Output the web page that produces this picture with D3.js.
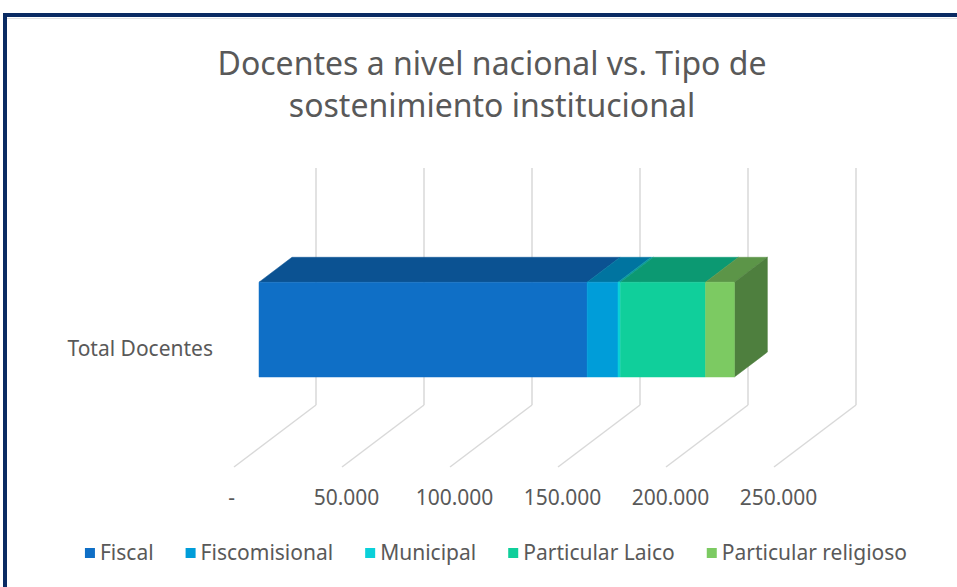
<!DOCTYPE html>
<html>
<head>
  <meta charset="utf-8">
  <title>Docentes</title>
  <script src="https://cdn.jsdelivr.net/npm/d3@7"></script>
  <style>
    body { margin: 0; background: #ffffff; }
    text { font-family: "Noto Sans", sans-serif; fill: #595959; }
    .title { font-size: 32px; }
    .cat { font-size: 21px; }
    .x.axis text { font-size: 21px; fill: #595959; }
    .x.axis path, .x.axis line { display: none; }
    .legend text { font-size: 21px; }
    .grid { stroke: #d9d9d9; stroke-width: 1.5; fill: none; }
  </style>
</head>
<body>
<script>
  // chart data
  var categories = ["Total Docentes"];
  var seriesNames = ["Fiscal", "Fiscomisional", "Municipal", "Particular Laico", "Particular religioso"];
  var seriesValues = [151900, 14300, 1100, 39400, 13400];
  var seriesColors = ["#0F6FC6", "#009DD9", "#0BD0D9", "#10CF9B", "#7CCA62"];
  var tickValues = [0, 50000, 100000, 150000, 200000, 250000];
  var tickLabels = ["-", "50.000", "100.000", "150.000", "200.000", "250.000"];
  var titleLines = ["Docentes a nivel nacional vs. Tipo de", "sostenimiento institucional"];

  var W = 957, H = 587;

  var svg = d3.select("body").append("svg")
      .attr("width", W)
      .attr("height", H);

  // frame
  svg.append("rect")
      .attr("x", 0).attr("y", 0).attr("width", W).attr("height", H)
      .attr("fill", "#ffffff");
  svg.append("rect")
      .attr("x", 5).attr("y", 15).attr("width", 1000).attr("height", 700)
      .attr("fill", "none").attr("stroke", "#0a2b63").attr("stroke-width", 4);
  svg.append("line")
      .attr("x1", 7).attr("x2", W).attr("y1", 18.5).attr("y2", 18.5)
      .attr("stroke", "#e2e2e2").attr("stroke-width", 1);

  // title
  svg.append("text")
      .attr("class", "title")
      .attr("text-anchor", "middle")
      .selectAll("tspan")
      .data(titleLines)
      .enter().append("tspan")
      .attr("x", 492)
      .attr("y", function (d, i) { return 75 + i * 42; })
      .text(function (d) { return d; });

  // scales (front plane of the 3D box), depth vector for the oblique projection
  var x = d3.scaleLinear()
      .domain([0, 250000])
      .range([234, 774]);

  var y = d3.scaleBand()
      .domain(categories)
      .range([230, 467])
      .paddingInner(0.6)
      .paddingOuter(0.3);

  var depth = {dx: 82, dy: -62},
      barFront = 0.305,
      barBack = 0.707;

  function pt(v, yy, d) {
    return [x(v) + d * depth.dx, yy + d * depth.dy];
  }

  var line = d3.line();

  // back wall gridlines and floor lines
  var grid = svg.append("g");
  grid.selectAll("path.wall")
      .data(tickValues)
      .enter().append("path")
      .attr("class", "grid")
      .attr("d", function (v) { return line([pt(v, y.range()[0], 1), pt(v, y.range()[1], 1)]); });
  grid.selectAll("path.floor")
      .data(tickValues)
      .enter().append("path")
      .attr("class", "grid")
      .attr("d", function (v) { return line([pt(v, y.range()[1], 1), pt(v, y.range()[1], 0)]); });

  // stacked segments
  var stack = [];
  var acc = 0;
  seriesValues.forEach(function (v, i) {
    stack.push({name: seriesNames[i], x0: acc, x1: acc + v, color: seriesColors[i]});
    acc += v;
  });

  var cat = categories[0];
  var y0 = y(cat), y1 = y(cat) + y.bandwidth();

  var bars = svg.append("g");

  // top faces
  bars.selectAll("path.top")
      .data(stack)
      .enter().append("path")
      .attr("d", function (s) {
        return line([pt(s.x0, y0, barFront), pt(s.x1, y0, barFront), pt(s.x1, y0, barBack), pt(s.x0, y0, barBack)]) + "Z";
      })
      .attr("fill", function (s) { return d3.rgb(s.color).darker(0.85); })
      .attr("stroke", function (s) { return d3.rgb(s.color).darker(0.85); })
      .attr("stroke-width", 0.5);

  // right side of the last segment
  var lastSeg = stack[stack.length - 1];
  bars.append("path")
      .attr("d", line([pt(lastSeg.x1, y0, barFront), pt(lastSeg.x1, y0, barBack), pt(lastSeg.x1, y1, barBack), pt(lastSeg.x1, y1, barFront)]) + "Z")
      .attr("fill", d3.rgb(lastSeg.color).darker(1.3))
      .attr("stroke", d3.rgb(lastSeg.color).darker(1.3))
      .attr("stroke-width", 0.5);

  // front faces
  bars.selectAll("path.front")
      .data(stack)
      .enter().append("path")
      .attr("d", function (s) {
        return line([pt(s.x0, y0, barFront), pt(s.x1, y0, barFront), pt(s.x1, y1, barFront), pt(s.x0, y1, barFront)]) + "Z";
      })
      .attr("fill", function (s) { return s.color; })
      .attr("stroke", function (s) { return s.color; })
      .attr("stroke-width", 0.5);

  // category label
  svg.append("text")
      .attr("class", "cat")
      .attr("x", x(0) - 21)
      .attr("y", y0 + y.bandwidth() / 2 + barFront * depth.dy + 19)
      .attr("dy", "0.35em")
      .attr("text-anchor", "end")
      .text(cat);

  // value axis
  var xAxis = d3.axisBottom(x)
      .tickValues(tickValues)
      .tickSize(0)
      .tickFormat(function (d, i) { return tickLabels[i]; });

  var axisG = svg.append("g")
      .attr("class", "x axis")
      .attr("transform", "translate(0," + (y.range()[1] + 20) + ")")
      .call(xAxis);
  axisG.selectAll("text")
      .attr("dx", function (d) { return d === 0 ? -3 : 4; })
      .attr("font-family", null);

  // legend
  var legend = svg.append("g").attr("class", "legend");
  var items = legend.selectAll("g")
      .data(seriesNames)
      .enter().append("g");
  items.append("rect")
      .attr("width", 10).attr("height", 10)
      .attr("y", -5)
      .attr("fill", function (d, i) { return seriesColors[i]; });
  items.append("text")
      .attr("x", 15)
      .attr("dy", "0.35em")
      .text(function (d) { return d; });

  var lx = 0;
  items.each(function () {
    var g = d3.select(this);
    g.attr("transform", "translate(" + lx + ",0)");
    lx += 15 + g.select("text").node().getComputedTextLength() + 32;
  });
  lx -= 32;
  legend.attr("transform", "translate(" + (496 - lx / 2) + ",553)");
</script>
</body>
</html>
